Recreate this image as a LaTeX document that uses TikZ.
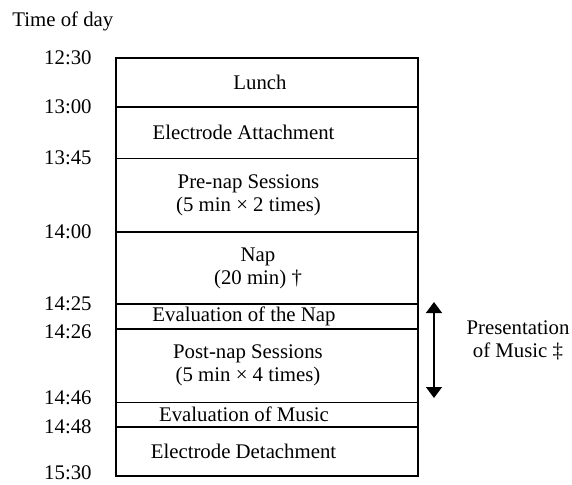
\documentclass[tikz,border=0pt]{standalone}
\usepackage{fontspec}
\setmainfont{Liberation Serif}
\usetikzlibrary{positioning,arrows.meta}

\begin{document}
\begin{tikzpicture}[x=0.5pt,y=0.5pt,
		every node/.style={font=\fontsize{10.4pt}{11.5pt}\selectfont},
		seg/.style={draw, line width=0.5pt, minimum width=151pt, inner sep=0pt, outer sep=0pt},
		txt/.style={align=center, inner sep=0pt},
		heavy/.style={line width=1pt},
		clock/.style={inner sep=0pt}] %Start of the drawing
	\useasboundingbox (0,0) rectangle (572,484); %Page size
		%Title
	\node[anchor=west, inner sep=0pt] (title) at (12,463) {Time of day}; %Axis name
		%Blocks of the schedule
	\node[seg, minimum height=24.5pt, anchor=north] (lunch) at (267,426) {}; %First block
	\node[seg, minimum height=25.5pt, below=0pt of lunch] (attach) {};
	\node[seg, minimum height=37pt, below=0pt of attach] (prenap) {};
	\node[seg, minimum height=36pt, below=0pt of prenap] (nap) {};
	\node[seg, minimum height=12.5pt, below=0pt of nap] (evalnap) {};
	\node[seg, minimum height=36.5pt, below=0pt of evalnap] (postnap) {};
	\node[seg, minimum height=12.5pt, below=0pt of postnap] (evalmusic) {};
	\node[seg, minimum height=24.5pt, below=0pt of evalmusic] (detach) {}; %Last block
		%Names of the blocks
	\node[txt, xshift=-3.5pt] (lunchtxt) at (lunch) {Lunch};
	\node[txt, xshift=-11.75pt] (attachtxt) at (attach) {Electrode Attachment};
	\node[txt, xshift=-9.25pt] (prenaptxt) at (prenap) {Pre-nap Sessions\\(5 min × 2 times)};
	\node[txt, xshift=-4.5pt] (naptxt) at (nap) {Nap\\(20 min) †};
	\node[txt, xshift=-11.5pt] (evalnaptxt) at (evalnap) {Evaluation of the Nap};
	\node[txt, xshift=-9.5pt] (postnaptxt) at (postnap) {Post-nap Sessions\\(5 min × 4 times)};
	\node[txt, xshift=-11.5pt] (evalmusictxt) at (evalmusic) {Evaluation of Music};
	\node[txt, xshift=-11.75pt] (detachtxt) at (detach) {Electrode Detachment};
		%Heavy lines
	\draw[heavy] (lunch.north west) rectangle (detach.south east); %Frame
	\draw[heavy] (lunch.south west) -- (lunch.south east); %13:00
	\draw[heavy] (prenap.south west) -- (prenap.south east); %14:00
	\draw[heavy] (nap.south west) -- (nap.south east); %14:25
	\draw[heavy] (evalnap.south west) -- (evalnap.south east); %14:26
	\draw[heavy] (evalmusic.south west) -- (evalmusic.south east); %14:48
		%Times of day
	\node[clock, left=12pt of lunch.north west] (t1230) {12:30};
	\node[clock, left=12pt of attach.north west] (t1300) {13:00};
	\node[clock, left=12pt of prenap.north west] (t1345) {13:45};
	\node[clock, left=12pt of nap.north west] (t1400) {14:00};
	\node[clock, left=12pt of evalnap.north west] (t1425) {14:25};
	\node[clock, left=12pt of postnap.north west, yshift=-1.5pt] (t1426) {14:26};
	\node[clock, left=12pt of evalmusic.north west, yshift=2pt] (t1446) {14:46};
	\node[clock, left=12pt of detach.north west] (t1448) {14:48};
	\node[clock, left=12pt of detach.south west, yshift=1.5pt] (t1530) {15:30};
		%Music
	\coordinate (mtop) at ([xshift=8pt,yshift=1pt]evalnap.north east); %Start of the music
	\coordinate (mbot) at ([xshift=8pt,yshift=2pt]postnap.south east); %End of the music
	\draw[{Triangle[width=8pt,length=5.5pt]}-{Triangle[width=8pt,length=5.5pt]}, line width=0.6pt] (mtop) -- (mbot); %Span of the music
	\node[align=center, inner sep=0pt] (music) at (518,144) {Presentation\\of Music ‡}; %Name of the span
\end{tikzpicture}
\end{document}
